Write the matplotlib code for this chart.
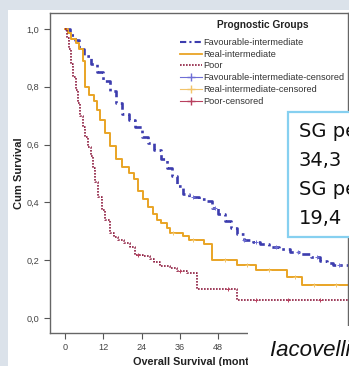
import matplotlib
matplotlib.use('Agg')
import matplotlib.pyplot as plt
from matplotlib.lines import Line2D
from matplotlib.patches import Rectangle
from matplotlib.ticker import FuncFormatter
import numpy as np

# Kaplan-Meier, valori (mesi, sopravvivenza cumulativa)
fav_t = [0, 1.5, 3.0, 4.5, 6, 8, 10, 12, 14, 16, 18, 20, 22, 24, 26, 28, 30, 32, 33.5, 35,
         37, 39, 42, 44.5, 46, 48, 50, 52, 54, 56, 59, 61, 64, 67, 70.5, 74, 77, 80, 82, 84, 89]
fav_s = [1.0, 0.98, 0.96, 0.93, 0.905, 0.88, 0.85, 0.82, 0.785, 0.745, 0.705, 0.685, 0.66, 0.625,
         0.605, 0.58, 0.55, 0.52, 0.49, 0.455, 0.43, 0.42, 0.41, 0.405, 0.38, 0.36, 0.335, 0.31,
         0.29, 0.27, 0.262, 0.256, 0.247, 0.238, 0.229, 0.22, 0.21, 0.198, 0.19, 0.183, 0.183]

real_t = [0, 1, 2, 3.5, 4.5, 5.5, 6.3, 7.5, 9, 10, 11, 12.5, 14, 16, 18, 20, 21.5, 23, 24.5, 26,
          27.5, 28.7, 30, 32, 33, 37, 39, 43.5, 46, 54, 60, 69.5, 74.2, 89]
real_s = [1.0, 0.985, 0.965, 0.95, 0.93, 0.89, 0.80, 0.77, 0.75, 0.72, 0.685, 0.64, 0.595, 0.55,
          0.522, 0.50, 0.48, 0.44, 0.41, 0.385, 0.36, 0.34, 0.328, 0.31, 0.293, 0.285, 0.27, 0.255,
          0.20, 0.184, 0.167, 0.14, 0.115, 0.115]

poor_t = [0, 0.7, 1.3, 2, 2.6, 3.3, 4, 4.7, 5.5, 6.3, 7.3, 8, 8.9, 9.4, 10.3, 11.5, 12.5, 14,
          15.5, 16.7, 18.5, 20.4, 21.9, 24.5, 26.6, 28, 29.8, 32.9, 35, 38.1, 41.3, 53.8, 89]
poor_s = [1.0, 0.97, 0.93, 0.88, 0.835, 0.79, 0.745, 0.70, 0.66, 0.625, 0.59, 0.56, 0.52, 0.47,
          0.42, 0.375, 0.34, 0.295, 0.28, 0.27, 0.258, 0.247, 0.218, 0.213, 0.205, 0.195, 0.18,
          0.172, 0.162, 0.155, 0.10, 0.063, 0.063]

fav_cens = [40, 47, 56, 60, 66, 73, 79, 86]
real_cens = [34, 40, 50, 57, 64, 72, 78, 85]
poor_cens = [23, 36, 51, 60, 70, 80]

group_labels = ['Favourable-intermediate', 'Real-intermediate', 'Poor',
                'Favourable-intermediate-censored', 'Real-intermediate-censored', 'Poor-censored']
y_ticks = [0.0, 0.2, 0.4, 0.6, 0.8, 1.0]
x_ticks = [0, 12, 24, 36, 48, 60, 72, 84]
box_lines = ['SG pe', '34,3', 'SG pe', '19,4']

c_fav, c_real, c_poor = '#3c3cae', '#e9a425', '#8e1d40'
c_fav2, c_real2, c_poor2 = '#6f6fd6', '#f2c46a', '#b8405e'

W, H = 349, 366
fig = plt.figure(figsize=(W / 100, H / 100), dpi=100, facecolor='#dbe2ea')
plt.rcParams['font.family'] = ['Liberation Sans', 'DejaVu Sans']

# pannello bianco della slide
fig.add_artist(Rectangle((8 / W, 0), 1, 1 - 10 / H, transform=fig.transFigure,
                         facecolor='white', edgecolor='none', zorder=-1))

ax = fig.add_axes([50 / W, 33 / H, 298 / W, 320 / H])
ax.set_xlim(-4.7, 88.7)
ax.set_ylim(-0.052, 1.055)


def surv_at(times, ts, ss):
    idx = np.searchsorted(ts, times, side='right') - 1
    return np.array(ss)[idx]


ax.step(fav_t, fav_s, where='post', color=c_fav, lw=1.9, linestyle=(0, (3, 1.5, 1, 1.5)))
ax.step(real_t, real_s, where='post', color=c_real, lw=1.4)
ax.step(poor_t, poor_s, where='post', color=c_poor, lw=1.2, linestyle=(0, (1, 0.8)))
ax.plot(fav_cens, surv_at(fav_cens, fav_t, fav_s), '+', color=c_fav2, ms=3, mew=0.7)
ax.plot(real_cens, surv_at(real_cens, real_t, real_s), '+', color=c_real2, ms=3, mew=0.7)
ax.plot(poor_cens, surv_at(poor_cens, poor_t, poor_s), '+', color=c_poor2, ms=3, mew=0.7)

ax.set_xticks(x_ticks)
ax.set_yticks(y_ticks)
ax.yaxis.set_major_formatter(FuncFormatter(lambda v, p: f'{v:.1f}'.replace('.', ',')))
ax.tick_params(labelsize=6.6, colors='#555555', length=4, width=0.8, labelcolor='#444444')
for sp in ax.spines.values():
    sp.set_color('#666666')
    sp.set_linewidth(1.0)

ax.set_ylabel('Cum Survival', fontsize=8, fontweight='bold', labelpad=2, color='#222222')
ax.set_xlabel('Overall Survival (months)', fontsize=7.8, fontweight='bold', labelpad=3.5,
              color='#222222')

handles = [
    Line2D([], [], color=c_fav, lw=1.5, linestyle=(0, (3, 1.5, 1, 1.5))),
    Line2D([], [], color=c_real, lw=1.3),
    Line2D([], [], color=c_poor, lw=1.2, linestyle=(0, (1, 0.8))),
    Line2D([], [], color=c_fav2, lw=0.8, marker='+', ms=6),
    Line2D([], [], color=c_real2, lw=0.8, marker='+', ms=6),
    Line2D([], [], color=c_poor2, lw=0.8, marker='+', ms=6),
]
fig.text(263 / W, 1 - 25 / H, 'Prognostic Groups', fontsize=7.3, fontweight='bold',
         ha='center', va='center', color='#222222')
leg = fig.legend(handles, group_labels, loc='upper left', bbox_to_anchor=(180 / W, 1 - 38 / H),
                 frameon=False, fontsize=6.6,
                 handlelength=2.4, handletextpad=0.15, labelspacing=0.3, borderpad=0,
                 borderaxespad=0)
for txt in leg.get_texts():
    txt.set_color('#333333')

# riquadro con le mediane
fig.add_artist(Rectangle((288 / W, 1 - 237 / H), 0.3, 125 / H, transform=fig.transFigure,
                         facecolor='white', edgecolor='#86d0f0', lw=1.6, zorder=5))
for i, line in enumerate(box_lines):
    fig.text(299 / W, 1 - (132 + i * 28.7) / H, line, fontsize=14, va='center', ha='left',
             family='DejaVu Sans', color='#111111', zorder=6)

# riquadro della citazione
fig.add_artist(Rectangle((248 / W, 0), 0.5, 40 / H, transform=fig.transFigure,
                         facecolor='white', edgecolor='none', zorder=5))
fig.text(270 / W, 1 - 351 / H, 'Iacovelli et al.', fontsize=16, style='italic',
         va='center', ha='left', color='#111111', zorder=6)

fig.savefig('out.png', dpi=100, facecolor=fig.get_facecolor())
